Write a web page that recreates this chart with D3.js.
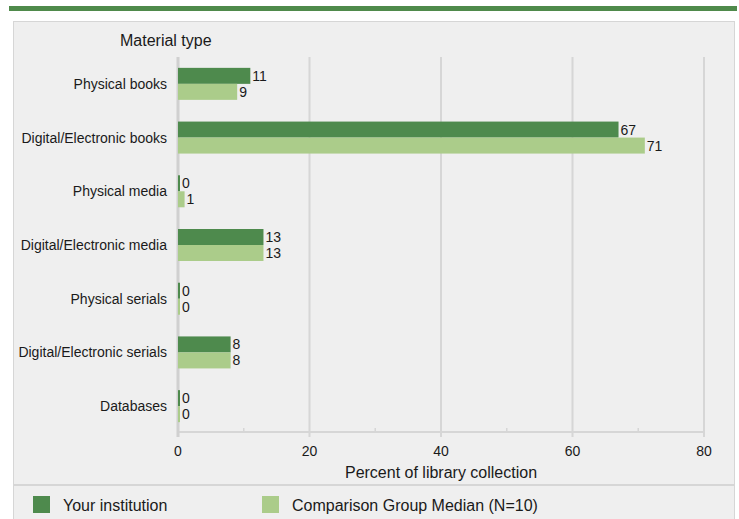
<!DOCTYPE html>
<html>
<head>
<meta charset="utf-8">
<script src="https://cdn.jsdelivr.net/npm/d3@7"></script>
<style>
  body { margin: 0; background: #fff; }
  text { font-family: "Liberation Sans", Arial, sans-serif; fill: #1a1a1a; }
</style>
</head>
<body>
<script>
const categories = ['Physical books', 'Digital/Electronic books', 'Physical media',
  'Digital/Electronic media', 'Physical serials', 'Digital/Electronic serials', 'Databases'];
const yourValues = [11, 67, 0, 13, 0, 8, 0];
const groupValues = [9, 71, 1, 13, 0, 8, 0];
const seriesNames = ['Your institution', 'Comparison Group Median (N=10)'];
const xTicks = [0, 20, 40, 60, 80];
const xMinorTicks = [10, 30, 50, 70];

const fullWidth = 739;
const fullHeight = 519;
const dark = '#4e8a4d';
const light = '#abcc8a';

const svg = d3.select('body')
  .append('svg')
  .attr('width', fullWidth)
  .attr('height', fullHeight);

// Top rule
svg.append('rect')
  .attr('x', 9).attr('y', 6)
  .attr('width', 728).attr('height', 5)
  .style('fill', '#4f8a4b');

// Panel
svg.append('rect')
  .attr('x', 13.5).attr('y', 21.5)
  .attr('width', 721).attr('height', 510)
  .style('fill', '#efefef')
  .style('stroke', '#d6d6d6');

const x = d3.scaleLinear().domain([0, 80]).range([178, 704]);
const y = d3.scaleBand().domain(categories).range([57, 433]);

// Grid
svg.append('g').selectAll('line')
  .data(xTicks.slice(1))
  .enter().append('line')
  .attr('x1', d => x(d)).attr('x2', d => x(d))
  .attr('y1', 57).attr('y2', 437)
  .style('stroke', '#d6d6d6').style('stroke-width', 2);

// Axis baseline + ticks
svg.append('line')
  .attr('x1', 177).attr('x2', 705)
  .attr('y1', 432).attr('y2', 432)
  .style('stroke', '#d6d6d6').style('stroke-width', 2);

svg.append('g').selectAll('line')
  .data(xMinorTicks)
  .enter().append('line')
  .attr('x1', d => x(d)).attr('x2', d => x(d))
  .attr('y1', 428).attr('y2', 432)
  .style('stroke', '#d6d6d6').style('stroke-width', 1.5);

svg.append('line')
  .attr('x1', 178).attr('x2', 178)
  .attr('y1', 57).attr('y2', 437)
  .style('stroke', '#d0d0d0').style('stroke-width', 3);

svg.append('g').selectAll('text')
  .data(xTicks)
  .enter().append('text')
  .attr('x', d => x(d)).attr('y', 456)
  .attr('text-anchor', 'middle')
  .style('font-size', '14px')
  .text(d => d);

svg.append('text')
  .attr('x', x(40)).attr('y', 478)
  .attr('text-anchor', 'middle')
  .style('font-size', '16px')
  .text('Percent of library collection');

svg.append('text')
  .attr('x', 120).attr('y', 46)
  .style('font-size', '16px')
  .text('Material type');

// Category labels
svg.append('g').selectAll('text')
  .data(categories)
  .enter().append('text')
  .attr('x', 167)
  .attr('y', d => y(d) + y.bandwidth() / 2 + 5)
  .attr('text-anchor', 'end')
  .style('font-size', '14px')
  .text(d => d);

// Bars
const barH = 16;
const series = [
  { values: yourValues, color: dark, offset: -barH },
  { values: groupValues, color: light, offset: 0 }
];

series.forEach(s => {
  const g = svg.append('g');
  g.selectAll('rect')
    .data(categories)
    .enter().append('rect')
    .attr('x', x(0))
    .attr('y', (d, i) => y(d) + y.bandwidth() / 2 + s.offset)
    .attr('width', (d, i) => Math.max(2, x(s.values[i]) - x(0)))
    .attr('height', barH)
    .style('fill', s.color);
  g.selectAll('text')
    .data(categories)
    .enter().append('text')
    .attr('x', (d, i) => Math.max(x(0) + 2, x(s.values[i])) + 2)
    .attr('y', (d, i) => y(d) + y.bandwidth() / 2 + s.offset + 13)
    .style('font-size', '14px')
    .text((d, i) => s.values[i]);
});

// Legend
svg.append('line')
  .attr('x1', 14).attr('x2', 734)
  .attr('y1', 485).attr('y2', 485)
  .style('stroke', '#d6d6d6').style('stroke-width', 2);

const legendX = [33, 262];
const leg = svg.append('g');
leg.selectAll('rect')
  .data(seriesNames)
  .enter().append('rect')
  .attr('x', (d, i) => legendX[i]).attr('y', 496)
  .attr('width', 17).attr('height', 17)
  .style('fill', (d, i) => i === 0 ? dark : light);
leg.selectAll('text')
  .data(seriesNames)
  .enter().append('text')
  .attr('x', (d, i) => legendX[i] + 30).attr('y', 511)
  .style('font-size', '16px')
  .text(d => d);
</script>
</body>
</html>
